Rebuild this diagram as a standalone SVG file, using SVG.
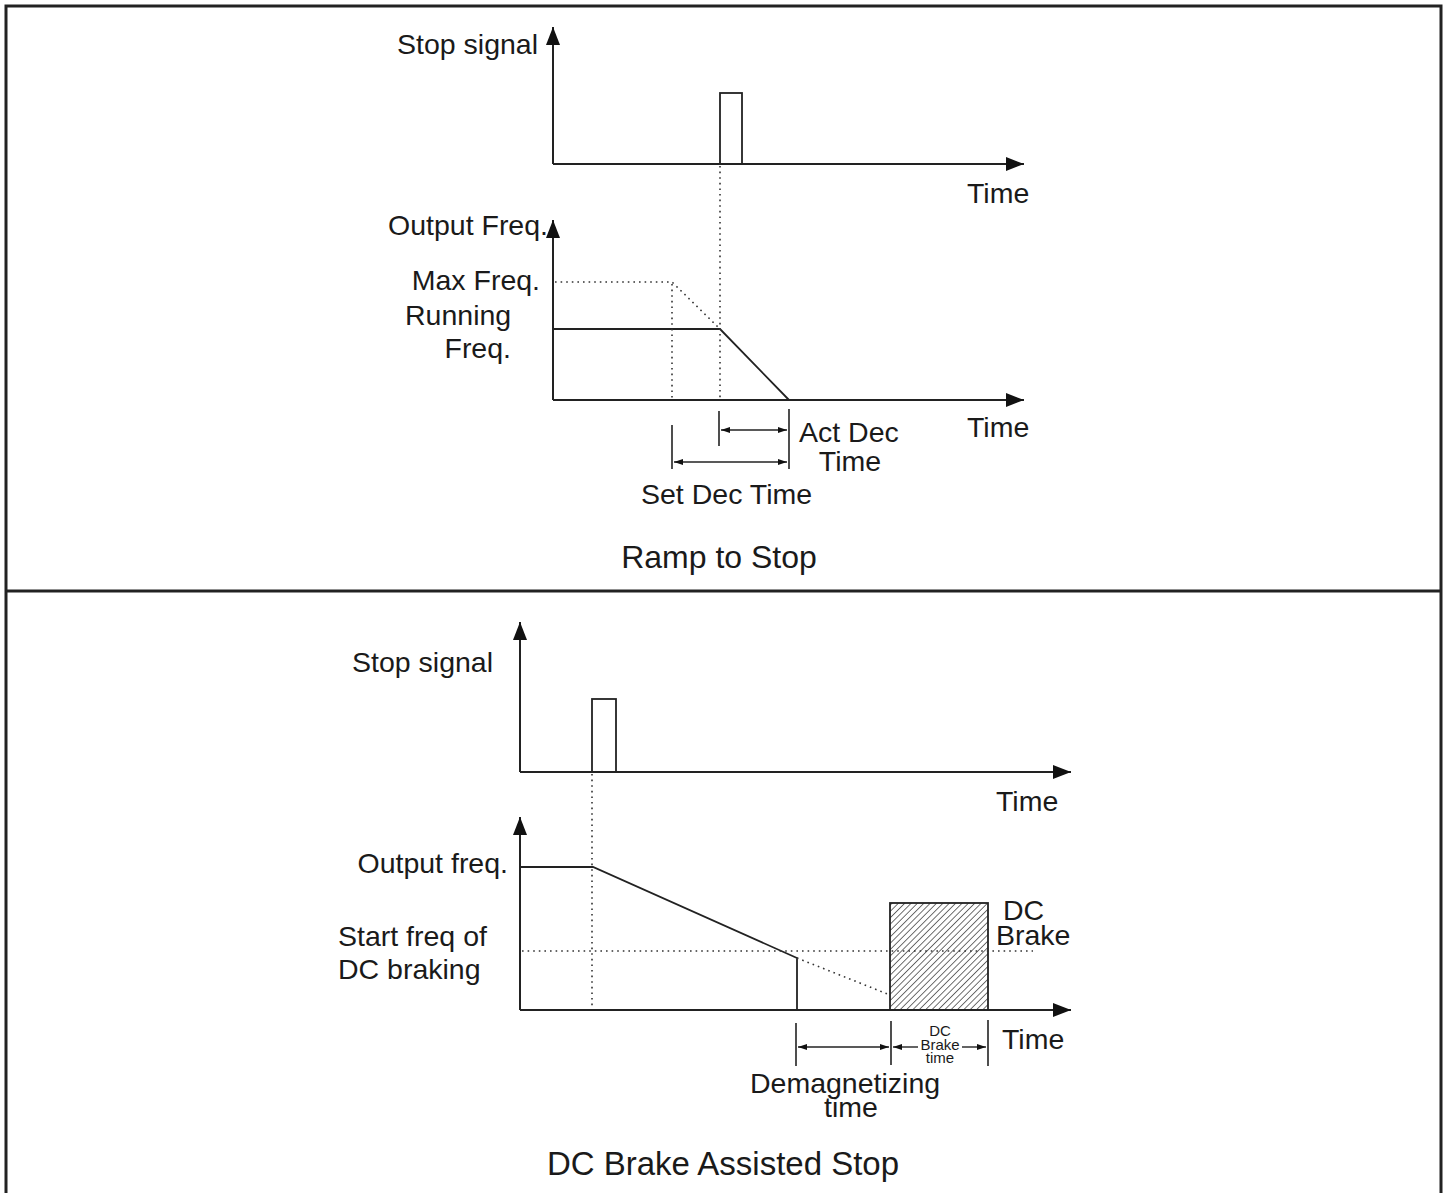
<svg xmlns="http://www.w3.org/2000/svg" width="1448" height="1193" viewBox="0 0 1448 1193">
<defs>
<style>
.ax{stroke:#222;stroke-width:2;fill:none}
.ln{stroke:#222;stroke-width:1.8;fill:none}
.dot{stroke:#333;stroke-width:1.6;stroke-dasharray:1.6 4;fill:none}
.tk{stroke:#222;stroke-width:1.6;fill:none}
.dim{stroke:#222;stroke-width:1.4;fill:none}
.fr{stroke:#222;stroke-width:3;fill:none}
text{font-family:"Liberation Sans",Arial,sans-serif;fill:#1a1a1a}
.t{font-size:28.5px}
.h{font-size:32px}
.h2{font-size:33px}
.s{font-size:15px}
</style>
<marker id="ah" viewBox="0 0 18 14" refX="18" refY="7" markerWidth="18" markerHeight="14" markerUnits="userSpaceOnUse" orient="auto">
<path d="M0,0 L18,7 L0,14 Z" fill="#111"/>
</marker>
<marker id="da" viewBox="0 0 9 6" refX="9" refY="3" markerWidth="9" markerHeight="6" markerUnits="userSpaceOnUse" orient="auto-start-reverse">
<path d="M0,0 L9,3 L0,6 Z" fill="#111"/>
</marker>
<pattern id="hatch" patternUnits="userSpaceOnUse" width="4.5" height="4.5" patternTransform="rotate(45)">
<line x1="0" y1="0" x2="0" y2="4.5" stroke="#222" stroke-width="1.3"/>
</pattern>
</defs>

<g id="frame">
<path class="fr" d="M6,1193 L6,6 L1441,6 L1441,1193"/>
<line class="fr" x1="6" y1="591" x2="1441" y2="591"/>
</g>

<g id="ramp-stop-signal">
<rect x="720" y="93" width="22" height="71" class="ln"/>
<text class="t" x="397" y="54">Stop signal</text>
<text class="t" x="967" y="203">Time</text>
</g>

<g id="ramp-output">
<text class="t" x="548" y="235" text-anchor="end">Output Freq.</text>
<text class="t" x="540" y="290" text-anchor="end">Max Freq.</text>
<text class="t" x="405" y="325">Running</text>
<text class="t" x="511" y="358" text-anchor="end">Freq.</text>
<text class="t" x="967" y="437">Time</text>
<path class="ln" d="M553,329 L720,329 L789,400"/>
</g>

<g id="ramp-dims">
<text class="t" x="799" y="442">Act Dec</text>
<text class="t" x="850" y="471" text-anchor="middle">Time</text>
<text class="t" x="641" y="504">Set Dec Time</text>
<text class="h" x="719" y="568" text-anchor="middle">Ramp to Stop</text>
</g>

<g id="dc-stop-signal">
<rect x="592" y="699" width="24" height="73" class="ln"/>
<text class="t" x="352" y="672">Stop signal</text>
<text class="t" x="996" y="811">Time</text>
</g>

<g id="dc-output">
<text class="t" x="508" y="873" text-anchor="end">Output freq.</text>
<text class="t" x="338" y="946">Start freq of</text>
<text class="t" x="338" y="979">DC braking</text>
<path class="ln" d="M520,867 L593,867 L797,958 L797,1010"/>
</g>

<g id="dc-brake">
<rect x="890" y="903" width="98" height="107" fill="url(#hatch)" stroke="#222" stroke-width="1.8"/>
<text class="t" x="1003" y="920">DC</text>
<text class="t" x="996" y="945">Brake</text>
</g>

<g id="dc-dims">
<text class="t" x="1002" y="1049">Time</text>
<text class="s" x="940" y="1036" text-anchor="middle">DC</text>
<text class="s" x="940" y="1050" text-anchor="middle">Brake</text>
<text class="s" x="940" y="1063" text-anchor="middle">time</text>
<text class="t" x="750" y="1093">Demagnetizing</text>
<text class="t" x="851" y="1117" text-anchor="middle">time</text>
<text class="h2" x="723" y="1175" text-anchor="middle">DC Brake Assisted Stop</text>
</g>

<g id="connectors">
<line class="ax" x1="553" y1="164" x2="553" y2="27" marker-end="url(#ah)"/>
<line class="ax" x1="553" y1="164" x2="1024" y2="164" marker-end="url(#ah)"/>
<line class="ax" x1="553" y1="400" x2="553" y2="220" marker-end="url(#ah)"/>
<line class="ax" x1="553" y1="400" x2="1024" y2="400" marker-end="url(#ah)"/>
<line class="dot" x1="720" y1="166" x2="720" y2="398"/>
<path class="dot" d="M555,282 L672,282 L720,329"/>
<line class="dot" x1="672" y1="284" x2="672" y2="398"/>
<line class="tk" x1="672" y1="425" x2="672" y2="469"/>
<line class="tk" x1="719" y1="411" x2="719" y2="446"/>
<line class="tk" x1="789" y1="409" x2="789" y2="469"/>
<line class="dim" x1="721" y1="430" x2="787" y2="430" marker-start="url(#da)" marker-end="url(#da)"/>
<line class="dim" x1="674" y1="462" x2="787" y2="462" marker-start="url(#da)" marker-end="url(#da)"/>
<line class="ax" x1="520" y1="772" x2="520" y2="622" marker-end="url(#ah)"/>
<line class="ax" x1="520" y1="772" x2="1071" y2="772" marker-end="url(#ah)"/>
<line class="ax" x1="520" y1="1010" x2="520" y2="817" marker-end="url(#ah)"/>
<line class="ax" x1="520" y1="1010" x2="1071" y2="1010" marker-end="url(#ah)"/>
<line class="dot" x1="592" y1="774" x2="592" y2="1008"/>
<line class="dot" x1="522" y1="951" x2="1033" y2="951"/>
<line class="dot" x1="797" y1="958" x2="890" y2="995"/>
<line class="tk" x1="796" y1="1023" x2="796" y2="1066"/>
<line class="tk" x1="891" y1="1021" x2="891" y2="1065"/>
<line class="tk" x1="988" y1="1020" x2="988" y2="1066"/>
<line class="dim" x1="798" y1="1047" x2="889" y2="1047" marker-start="url(#da)" marker-end="url(#da)"/>
<line class="dim" x1="893" y1="1047" x2="918" y2="1047" marker-start="url(#da)"/>
<line class="dim" x1="962" y1="1047" x2="986" y2="1047" marker-end="url(#da)"/>
</g>
</svg>
